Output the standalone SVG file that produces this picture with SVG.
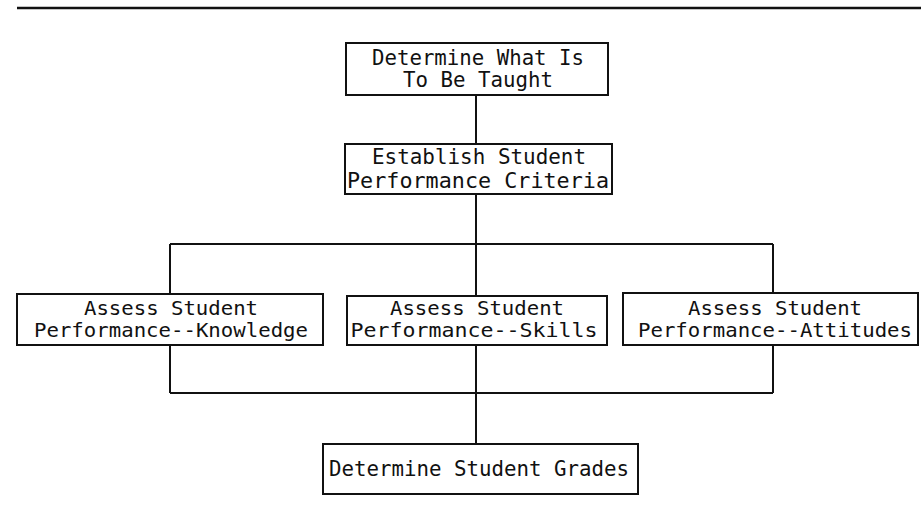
<svg xmlns="http://www.w3.org/2000/svg" width="921" height="515" viewBox="0 0 921 515">
  <style>
    .box { fill: #ffffff; stroke: #111111; stroke-width: 2; }
    .wire { fill: none; stroke: #111111; stroke-width: 2; }
    .lbl { font-family: "DejaVu Sans Mono", "Liberation Mono", monospace; font-size: 20.7px; fill: #111111; text-anchor: middle; }
    .sm { font-size: 20px; }
  </style>

  <rect x="0" y="0" width="921" height="515" fill="#ffffff"/>

  <!-- rule across the top of the page -->
  <line x1="17" y1="8" x2="921" y2="8" stroke="#111111" stroke-width="2.5"/>

  <g id="connectors">
    <line class="wire" x1="476" y1="94" x2="476" y2="144"/>
    <line class="wire" x1="476" y1="194" x2="476" y2="296"/>
    <line class="wire" x1="170" y1="244" x2="773" y2="244"/>
    <line class="wire" x1="170" y1="244" x2="170" y2="294"/>
    <line class="wire" x1="773" y1="244" x2="773" y2="293"/>
    <line class="wire" x1="170" y1="345" x2="170" y2="393"/>
    <line class="wire" x1="773" y1="345" x2="773" y2="393"/>
    <line class="wire" x1="170" y1="393" x2="773" y2="393"/>
    <line class="wire" x1="476" y1="345" x2="476" y2="444"/>
  </g>

  <g id="what-to-teach">
    <rect class="box" x="346" y="43" width="262" height="52"/>
    <text class="lbl" x="478" y="65" textLength="212" lengthAdjust="spacingAndGlyphs">Determine What Is</text>
    <text class="lbl" x="478" y="87" textLength="150" lengthAdjust="spacingAndGlyphs">To Be Taught</text>
  </g>

  <g id="performance-criteria">
    <rect class="box" x="345" y="144" width="267" height="50"/>
    <text class="lbl" x="479" y="164" textLength="214" lengthAdjust="spacingAndGlyphs">Establish Student</text>
    <text class="lbl" x="478" y="188" textLength="262" lengthAdjust="spacingAndGlyphs">Performance Criteria</text>
  </g>

  <g id="assess-knowledge">
    <rect class="box" x="17" y="294" width="306" height="51"/>
    <text class="lbl sm" x="171" y="315" textLength="174" lengthAdjust="spacingAndGlyphs">Assess Student</text>
    <text class="lbl sm" x="171" y="337" textLength="274" lengthAdjust="spacingAndGlyphs">Performance--Knowledge</text>
  </g>

  <g id="assess-skills">
    <rect class="box" x="347" y="296" width="260" height="49"/>
    <text class="lbl sm" x="477" y="315" textLength="174" lengthAdjust="spacingAndGlyphs">Assess Student</text>
    <text class="lbl sm" x="474" y="337" textLength="247" lengthAdjust="spacingAndGlyphs">Performance--Skills</text>
  </g>

  <g id="assess-attitudes">
    <rect class="box" x="623" y="293" width="295" height="52"/>
    <text class="lbl sm" x="775" y="315" textLength="174" lengthAdjust="spacingAndGlyphs">Assess Student</text>
    <text class="lbl sm" x="775" y="337" textLength="274" lengthAdjust="spacingAndGlyphs">Performance--Attitudes</text>
  </g>

  <g id="student-grades">
    <rect class="box" x="323" y="444" width="315" height="50"/>
    <text class="lbl" x="479" y="476" textLength="300" lengthAdjust="spacingAndGlyphs">Determine Student Grades</text>
  </g>
</svg>
